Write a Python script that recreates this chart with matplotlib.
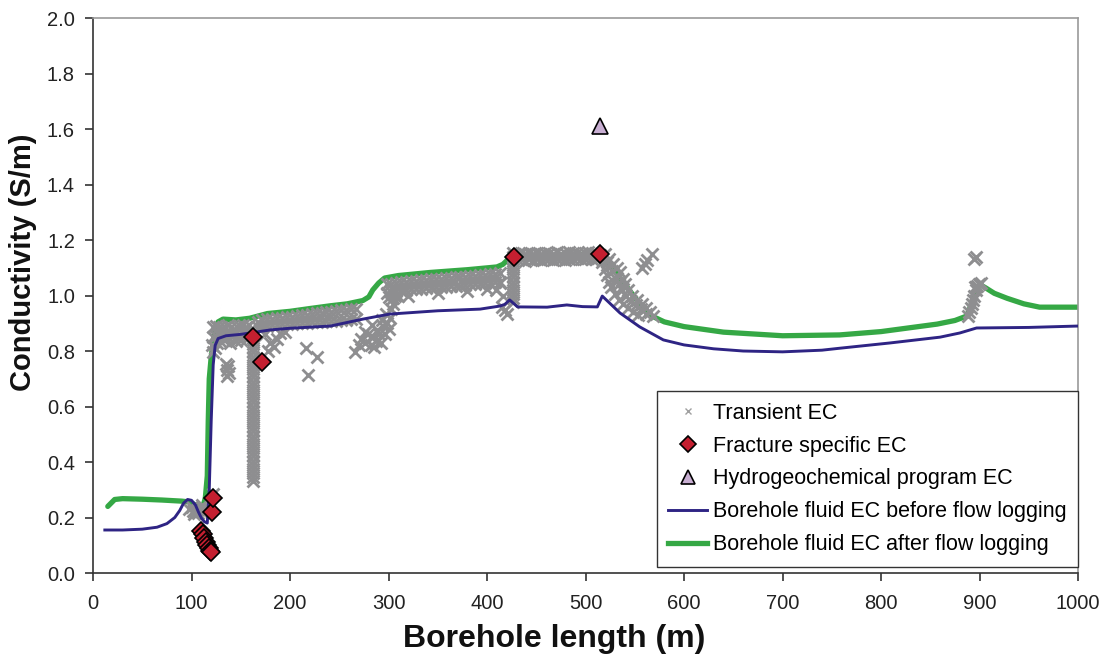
import numpy as np
import matplotlib
matplotlib.use("Agg")
import matplotlib.pyplot as plt
from matplotlib.lines import Line2D

plt.rcParams['font.family'] = ['Liberation Sans', 'DejaVu Sans']

# Borehole fluid EC before flow logging
before_x = [12, 30, 50, 65, 75, 83, 88, 92, 96, 100, 104, 107, 110, 113, 116, 118, 120, 122, 124, 127,
            135, 150, 165, 180, 200, 241, 274, 301, 350, 393, 413, 418, 423, 431, 461, 481, 497, 512,
            517, 535, 555, 579, 600, 630, 660, 700, 740, 758, 809, 860, 880, 897, 950, 1000]
before_y = [0.155, 0.155, 0.158, 0.165, 0.178, 0.2, 0.225, 0.252, 0.265, 0.262, 0.245, 0.22, 0.198, 0.185,
            0.18, 0.3, 0.55, 0.75, 0.82, 0.845, 0.855, 0.86, 0.868, 0.876, 0.882, 0.89, 0.915, 0.933,
            0.945, 0.951, 0.962, 0.968, 0.984, 0.959, 0.958, 0.966, 0.96, 0.959, 0.998, 0.937, 0.887,
            0.84, 0.822, 0.808, 0.8, 0.797, 0.803, 0.81, 0.829, 0.85, 0.865, 0.883, 0.885, 0.89]

# Borehole fluid EC after flow logging
after_x = [15, 22, 30, 50, 70, 90, 98, 104, 108, 112, 114, 116, 117, 118, 120, 122, 124, 127, 132, 145,
           159, 177, 200, 220, 241, 258, 274, 280, 284, 290, 296, 310, 342, 380, 410, 416, 422, 427,
           470, 515, 525, 540, 555, 565, 580, 600, 640, 700, 758, 800, 857, 875, 887, 893, 900, 906,
           915, 928, 945, 961, 1000]
after_y = [0.24, 0.265, 0.268, 0.266, 0.263, 0.259, 0.256, 0.245, 0.238, 0.245, 0.27, 0.35, 0.55, 0.7,
           0.78, 0.83, 0.88, 0.905, 0.915, 0.912, 0.918, 0.935, 0.943, 0.953, 0.963, 0.97, 0.982, 0.995,
           1.02, 1.045, 1.063, 1.072, 1.083, 1.093, 1.103, 1.112, 1.132, 1.14, 1.145, 1.15, 1.11, 1.04,
           0.97, 0.93, 0.905, 0.888, 0.868, 0.855, 0.858, 0.87, 0.897, 0.91, 0.926, 0.98, 1.04, 1.028,
           1.008, 0.99, 0.97, 0.958, 0.958]

# Transient EC, grouped by depth interval
tr_a_x = [97, 100, 102, 104, 106, 108, 110, 112, 103, 107, 111, 122]
tr_a_y = [0.232, 0.238, 0.225, 0.222, 0.228, 0.232, 0.222, 0.235, 0.213, 0.215, 0.245, 0.285]

tr_b_x = [122, 125, 128, 131, 134, 137, 140, 143, 146, 149, 152, 155, 158]
tr_b_hi = [0.885, 0.89, 0.888, 0.882, 0.886, 0.892, 0.886, 0.88, 0.886, 0.89, 0.893, 0.888, 0.892]
tr_b_lo = [0.85, 0.855, 0.862, 0.858, 0.862, 0.852, 0.856, 0.862, 0.852, 0.856, 0.862, 0.866, 0.868]
tr_b2_x = [121, 122, 124, 126, 129, 133, 139, 145, 150, 156, 135, 137, 136, 138, 136]
tr_b2_y = [0.82, 0.795, 0.81, 0.83, 0.835, 0.84, 0.83, 0.835, 0.84, 0.845, 0.755, 0.745, 0.73, 0.72, 0.71]

tr_c_x = 162
tr_c_y = [0.33, 0.345, 0.36, 0.375, 0.39, 0.405, 0.42, 0.435, 0.45, 0.465, 0.48, 0.495, 0.51, 0.525,
          0.54, 0.555, 0.57, 0.585, 0.6, 0.615, 0.63, 0.645, 0.66, 0.675, 0.69, 0.705, 0.72, 0.735,
          0.75, 0.765, 0.78, 0.795, 0.81, 0.825, 0.84, 0.855, 0.87]

tr_d_x = [167, 172, 177, 182, 187, 192, 197, 202, 207, 212, 217, 222, 227, 232, 237, 242, 247, 252,
          257, 262, 267]
tr_d_hi = [0.905, 0.91, 0.915, 0.917, 0.918, 0.92, 0.922, 0.924, 0.926, 0.928, 0.93, 0.934, 0.936,
           0.938, 0.94, 0.942, 0.944, 0.946, 0.948, 0.95, 0.952]
tr_d_lo = [0.885, 0.888, 0.89, 0.892, 0.894, 0.896, 0.897, 0.898, 0.9, 0.901, 0.902, 0.904, 0.905,
           0.906, 0.907, 0.908, 0.909, 0.91, 0.912, 0.914, 0.916]
tr_d2_x = [170, 175, 180, 184, 187, 178, 190, 216, 227, 218, 195]
tr_d2_y = [0.875, 0.86, 0.83, 0.815, 0.845, 0.80, 0.865, 0.81, 0.78, 0.715, 0.87]

tr_e_x = [266, 270, 272, 276, 279, 282, 284, 287, 288, 290, 292, 294, 296, 298, 300, 301, 303, 305,
          297, 293, 283, 276, 307, 285]
tr_e_y = [0.795, 0.82, 0.845, 0.83, 0.86, 0.82, 0.85, 0.835, 0.875, 0.86, 0.83, 0.89, 0.86, 0.9, 0.88,
          0.92, 0.95, 0.97, 0.935, 0.91, 0.895, 0.87, 1.0, 0.815]

tr_f_x = [298, 303, 308, 313, 318, 323, 328, 333, 338, 343, 348, 353, 358, 363, 368, 373, 378, 383,
          388, 393, 398, 403, 408, 413]
tr_f_hi = [1.04, 1.043, 1.046, 1.048, 1.05, 1.052, 1.054, 1.055, 1.057, 1.058, 1.06, 1.061, 1.062,
           1.064, 1.065, 1.066, 1.068, 1.07, 1.071, 1.073, 1.074, 1.076, 1.078, 1.08]
tr_f_lo = [1.01, 1.013, 1.016, 1.018, 1.02, 1.022, 1.024, 1.025, 1.027, 1.028, 1.03, 1.031, 1.032,
           1.034, 1.035, 1.036, 1.038, 1.04, 1.041, 1.043, 1.044, 1.046, 1.048, 1.05]
tr_f2_x = [300, 305, 310, 320, 350, 380, 400, 409]
tr_f2_y = [0.995, 0.99, 1.0, 1.0, 1.01, 1.015, 1.025, 1.02]

tr_g_x = 426
tr_g_y = [0.975, 0.99, 1.005, 1.02, 1.035, 1.05, 1.065, 1.08, 1.095, 1.11, 1.125, 1.14, 1.155]
tr_g2_x = [413, 416, 418, 420, 415]
tr_g2_y = [1.045, 1.0, 0.948, 0.935, 0.96]

tr_h_x = [431, 435, 439, 443, 447, 451, 455, 459, 463, 467, 471, 475, 479, 483, 487, 491, 495, 499,
          503, 507, 511]
tr_h_hi = [1.15, 1.152, 1.148, 1.155, 1.15, 1.153, 1.148, 1.155, 1.152, 1.15, 1.156, 1.15, 1.153, 1.157,
           1.152, 1.155, 1.15, 1.154, 1.157, 1.152, 1.155]
tr_h_lo = [1.128, 1.13, 1.125, 1.13, 1.128, 1.132, 1.127, 1.13, 1.133, 1.128, 1.13, 1.132, 1.128, 1.133,
           1.13, 1.135, 1.13, 1.133, 1.136, 1.13, 1.133]

tr_i_x = [515, 517, 520, 522, 524, 526, 530, 534, 538, 543, 548, 553,
          520, 524, 528, 532, 535, 538, 540, 543, 547, 552, 557, 561, 565, 569,
          522, 527, 531, 534, 537, 541, 546, 551, 556, 561,
          557, 562, 567, 560]
tr_i_y = [1.145, 1.12, 1.095, 1.075, 1.05, 1.03, 1.005, 0.985, 0.97, 0.955, 0.94, 0.928,
          1.15, 1.13, 1.115, 1.1, 1.085, 1.06, 1.04, 1.02, 1.0, 0.985, 0.97, 0.955, 0.94, 0.925,
          1.12, 1.09, 1.06, 1.04, 1.02, 1.0, 0.98, 0.965, 0.95, 0.935,
          1.10, 1.128, 1.15, 1.115]

tr_j_x = [888, 889, 891, 892, 893, 894, 896, 897, 899, 901, 895, 894, 896]
tr_j_y = [0.925, 0.94, 0.955, 0.97, 0.985, 1.0, 1.02, 1.035, 1.04, 1.045, 1.03, 1.13, 1.14]

# Fracture specific EC
frac_x = [110, 112, 113, 115, 116, 118, 119, 120, 121, 122, 162, 172, 427, 515]
frac_y = [0.15, 0.14, 0.125, 0.11, 0.10, 0.09, 0.08, 0.075, 0.22, 0.27, 0.85, 0.76, 1.14, 1.15]

# Hydrogeochemical program EC
hydro_x = [515]
hydro_y = [1.61]

x_ticks = [0, 100, 200, 300, 400, 500, 600, 700, 800, 900, 1000]
y_ticks = [0.0, 0.2, 0.4, 0.6, 0.8, 1.0, 1.2, 1.4, 1.6, 1.8, 2.0]

c_blue = '#2e2484'
c_green = '#35a845'
c_gray = '#8e8e90'
c_red = '#c41f30'
c_lilac = '#c8aed2'

fig = plt.figure(figsize=(11.1, 6.6), dpi=100)
ax = fig.add_axes([0.0838, 0.1318, 0.8874, 0.8409])

ax.plot(after_x, after_y, color=c_green, lw=3.8, solid_capstyle='round', zorder=2)

xm = dict(ls='none', marker='x', ms=8.5, mew=2.0, color=c_gray, zorder=3)
ax.plot(tr_a_x, tr_a_y, **xm)
ax.plot(tr_b_x, tr_b_hi, **xm)
ax.plot(tr_b_x, tr_b_lo, **xm)
ax.plot(tr_b2_x, tr_b2_y, **xm)
ax.plot(np.full(len(tr_c_y), tr_c_x), tr_c_y, **xm)
ax.plot(tr_d_x, tr_d_hi, **xm)
ax.plot(tr_d_x, tr_d_lo, **xm)
ax.plot(tr_d2_x, tr_d2_y, **xm)
ax.plot(tr_e_x, tr_e_y, **xm)
ax.plot(tr_f_x, tr_f_hi, **xm)
ax.plot(tr_f_x, tr_f_lo, **xm)
ax.plot(tr_f2_x, tr_f2_y, **xm)
ax.plot(np.full(len(tr_g_y), tr_g_x), tr_g_y, **xm)
ax.plot(tr_g2_x, tr_g2_y, **xm)
ax.plot(tr_h_x, tr_h_hi, **xm)
ax.plot(tr_h_x, tr_h_lo, **xm)
ax.plot(tr_i_x, tr_i_y, **xm)
ax.plot(tr_j_x, tr_j_y, **xm)

ax.plot(before_x, before_y, color=c_blue, lw=2.1, zorder=4)

ax.plot(frac_x, frac_y, ls='none', marker='D', ms=9, mfc=c_red, mec='black', mew=1.2, zorder=5)
ax.plot(hydro_x, hydro_y, ls='none', marker='^', ms=12, mfc=c_lilac, mec='black', mew=1.2, zorder=5)

ax.set_xlim(0, 1000)
ax.set_ylim(0, 2.0)
ax.set_xticks(x_ticks)
ax.set_yticks(y_ticks)
ax.set_yticklabels([f'{v:.1f}' for v in y_ticks])
ax.tick_params(direction='out', length=6, width=1.1, labelsize=14.5, colors='#222222', pad=7)
ax.tick_params(axis='x', pad=9)

for s in ['left', 'bottom']:
    ax.spines[s].set_color('#333333')
    ax.spines[s].set_linewidth(1.2)
for s in ['top', 'right']:
    ax.spines[s].set_color('#9a9a9a')
    ax.spines[s].set_linewidth(1.2)

ax.set_xlabel('Borehole length (m)', fontsize=23, fontweight='bold', color='#111111')
ax.set_ylabel('Conductivity (S/m)', fontsize=21, fontweight='bold', color='#111111')
ax.xaxis.set_label_coords(0.468, -0.092)
ax.yaxis.set_label_coords(-0.057, 0.56)

handles = [
    Line2D([], [], ls='none', marker='x', ms=5, mew=1.0, color='#a0a0a0'),
    Line2D([], [], ls='none', marker='D', ms=8, mfc=c_red, mec='black', mew=1.2),
    Line2D([], [], ls='none', marker='^', ms=10, mfc=c_lilac, mec='black', mew=1.2),
    Line2D([], [], color=c_blue, lw=2.1),
    Line2D([], [], color=c_green, lw=3.8),
]
labels = ['Transient EC', 'Fracture specific EC', 'Hydrogeochemical program EC',
          'Borehole fluid EC before flow logging', 'Borehole fluid EC after flow logging']
leg = ax.legend(handles, labels, loc='lower right', bbox_to_anchor=(1.0, 0.011), borderaxespad=0,
                fontsize=15.5, fancybox=False, framealpha=1, edgecolor='#333333',
                handlelength=1.8, handletextpad=0.25, labelspacing=0.55, borderpad=0.55)
leg.get_frame().set_linewidth(1.0)

fig.savefig('out.png', dpi=100)
